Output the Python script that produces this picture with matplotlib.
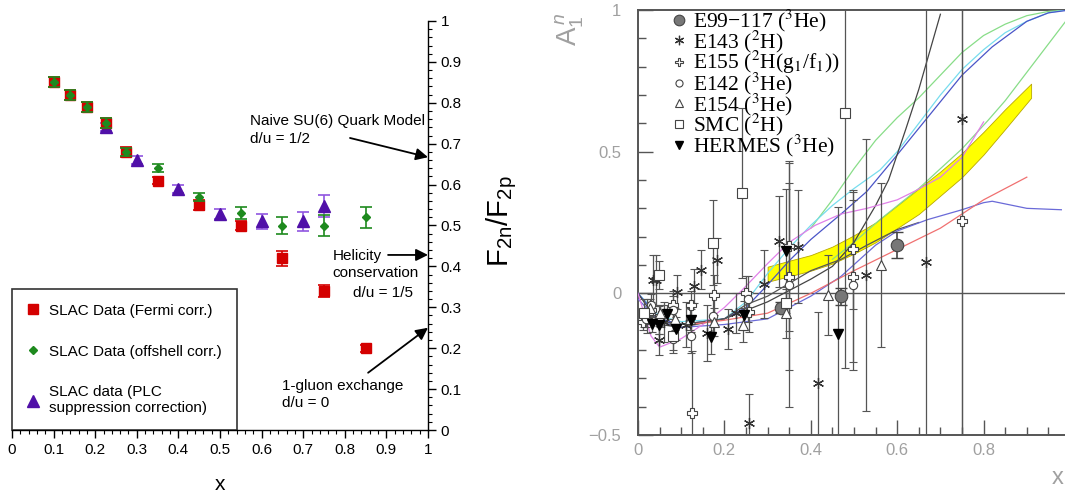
import numpy as np
import matplotlib
matplotlib.use("Agg")
import matplotlib.pyplot as plt
from matplotlib.ticker import MultipleLocator, FixedLocator, FuncFormatter
from matplotlib.font_manager import FontProperties

plt.rcParams['font.family'] = ['Liberation Sans', 'DejaVu Sans']
plt.rcParams['mathtext.fontset'] = 'custom'
plt.rcParams['mathtext.rm'] = 'Liberation Sans'
plt.rcParams['mathtext.it'] = 'Liberation Sans:italic'

# ---------------- left panel data: F2n/F2p ----------------
fermi_x = [0.10, 0.14, 0.18, 0.225, 0.275, 0.35, 0.45, 0.55, 0.65, 0.75, 0.85]
fermi_y = [0.85, 0.82, 0.79, 0.75, 0.68, 0.61, 0.55, 0.50, 0.42, 0.34, 0.20]
fermi_e = [0.012, 0.012, 0.012, 0.012, 0.012, 0.009, 0.012, 0.012, 0.018, 0.015, 0.009]

offs_x = [0.10, 0.14, 0.18, 0.225, 0.275, 0.35, 0.45, 0.55, 0.65, 0.75, 0.85]
offs_y = [0.85, 0.82, 0.79, 0.75, 0.68, 0.64, 0.57, 0.53, 0.50, 0.50, 0.52]
offs_e = [0.012, 0.012, 0.012, 0.012, 0.010, 0.010, 0.010, 0.015, 0.022, 0.025, 0.025]

plc_x = [0.225, 0.30, 0.40, 0.50, 0.60, 0.70, 0.75]
plc_y = [0.74, 0.66, 0.59, 0.528, 0.51, 0.51, 0.547]
plc_e = [0.010, 0.009, 0.010, 0.013, 0.018, 0.023, 0.027]

# ---------------- right panel data: A1n ----------------
e99_x = [0.33, 0.47, 0.60]
e99_y = [-0.05, -0.01, 0.17]
e99_e = [0.02, 0.03, 0.045]

e143_x = [0.02, 0.034, 0.041, 0.048, 0.06, 0.090, 0.11, 0.130, 0.146, 0.160, 0.183, 0.208, 0.228,
          0.258, 0.292, 0.327, 0.370, 0.416, 0.528, 0.667, 0.749]
e143_y = [-0.08, 0.046, 0.046, -0.166, -0.10, 0.005, -0.11, 0.026, 0.084, -0.140, 0.117, -0.125, -0.07,
          -0.457, 0.034, 0.183, 0.165, -0.315, 0.065, 0.112, 0.616]
e143_e = [0.06, 0.09, 0.09, 0.05, 0.07, 0.06, 0.08, 0.06, 0.07, 0.10, 0.08, 0.07, 0.07,
          0.10, 0.12, 0.16, 0.20, 0.25, 0.48, 1.6, 1.6]

e155_x = [0.011, 0.03, 0.05, 0.082, 0.123, 0.126, 0.176, 0.25, 0.257, 0.35, 0.35, 0.498, 0.498, 0.749]
e155_y = [-0.10, -0.06, -0.08, -0.04, -0.04, -0.424, -0.007, 0.0, -0.065, 0.167, 0.059, 0.155, 0.059, 0.256]
e155_e = [0.03, 0.03, 0.04, 0.05, 0.05, 0.22, 0.07, 0.06, 0.07, 0.30, 0.33, 0.21, 0.30, 1.6]

e142_x = [0.018, 0.03, 0.049, 0.080, 0.082, 0.123, 0.174, 0.254, 0.35, 0.498]
e142_y = [-0.09, -0.042, -0.095, -0.16, -0.06, -0.15, -0.08, -0.02, 0.03, 0.03]
e142_e = [0.03, 0.04, 0.05, 0.05, 0.05, 0.06, 0.07, 0.08, 0.43, 0.30]

e154_x = [0.027, 0.05, 0.085, 0.12, 0.175, 0.242, 0.343, 0.44, 0.562]
e154_y = [-0.05, -0.07, -0.09, -0.09, -0.10, -0.112, -0.068, -0.006, 0.10]
e154_e = [0.03, 0.03, 0.04, 0.04, 0.05, 0.06, 0.09, 0.14, 0.29]

smc_x = [0.015, 0.049, 0.08, 0.174, 0.241, 0.343, 0.479]
smc_y = [-0.07, 0.064, -0.15, 0.178, 0.353, -0.033, 0.638]
smc_e = [0.05, 0.05, 0.05, 0.15, 0.30, 0.05, 0.90]

herm_x = [0.032, 0.049, 0.066, 0.088, 0.123, 0.169, 0.246, 0.343, 0.464]
herm_y = [-0.107, -0.113, -0.072, -0.125, -0.095, -0.154, -0.078, 0.15, -0.145]
herm_e = [0.03, 0.03, 0.03, 0.04, 0.04, 0.06, 0.05, 0.22, 0.45]

# yellow band
band_x = [0.30, 0.35, 0.40, 0.45, 0.50, 0.55, 0.60, 0.65, 0.70, 0.75, 0.80, 0.85, 0.91]
band_hi = [0.094, 0.115, 0.135, 0.165, 0.205, 0.25, 0.31, 0.37, 0.43, 0.495, 0.57, 0.65, 0.74]
band_lo = [0.041, 0.060, 0.080, 0.105, 0.140, 0.18, 0.23, 0.28, 0.345, 0.41, 0.49, 0.58, 0.69]

# model curves (x, y, colour)
curves = [
    ([0.40, 0.45, 0.50, 0.55, 0.60, 0.65, 0.70, 0.75, 0.80, 0.85, 0.90, 0.95, 0.99],
     [0.23, 0.33, 0.44, 0.54, 0.62, 0.69, 0.77, 0.85, 0.91, 0.95, 0.98, 0.995, 1.0], '#88dd88'),
    ([0.45, 0.50, 0.56, 0.65, 0.70, 0.75, 0.81, 0.85, 0.90, 0.95, 0.99],
     [0.12, 0.18, 0.26, 0.37, 0.44, 0.51, 0.61, 0.68, 0.78, 0.88, 0.96], '#88dd88'),
    ([0.0, 0.05, 0.1, 0.2, 0.25, 0.3, 0.35, 0.4, 0.45, 0.5, 0.56, 0.6, 0.65, 0.7, 0.75, 0.8, 0.85, 0.9, 0.95, 0.99],
     [0.0, -0.08, -0.1, -0.09, -0.03, 0.07, 0.16, 0.24, 0.31, 0.37, 0.435, 0.5, 0.6, 0.7, 0.79, 0.86, 0.92, 0.96, 0.99, 1.0], '#77ddee'),
    ([0.0, 0.05, 0.1, 0.2, 0.25, 0.3, 0.35, 0.4, 0.47, 0.53, 0.59, 0.67, 0.75, 0.82, 0.9, 0.95, 1.0],
     [0.0, -0.09, -0.11, -0.09, -0.05, 0.03, 0.115, 0.19, 0.28, 0.36, 0.47, 0.62, 0.77, 0.87, 0.96, 0.99, 1.0], '#4a55c8'),
    ([0.0, 0.05, 0.1, 0.2, 0.3, 0.35, 0.4, 0.45, 0.5, 0.55, 0.58, 0.62, 0.65, 0.7],
     [0.0, -0.11, -0.12, -0.09, -0.03, 0.01, 0.05, 0.095, 0.18, 0.31, 0.40, 0.58, 0.72, 0.985], '#444444'),
    ([0.05, 0.1, 0.2, 0.25, 0.3, 0.35, 0.4, 0.47, 0.53, 0.6, 0.65],
     [-0.1, -0.11, -0.09, -0.04, -0.01, 0.035, 0.08, 0.12, 0.17, 0.225, 0.25], '#555555'),
    ([0.0, 0.05, 0.1, 0.2, 0.3, 0.35, 0.4, 0.47, 0.55, 0.6, 0.67, 0.75, 0.8, 0.82, 0.9, 0.98],
     [-0.02, -0.1, -0.12, -0.11, -0.09, -0.05, -0.01, 0.06, 0.17, 0.22, 0.26, 0.295, 0.32, 0.325, 0.30, 0.295], '#6a6ad8'),
    ([0.0, 0.01, 0.03, 0.05, 0.1, 0.15, 0.2, 0.24, 0.3, 0.35, 0.41, 0.47, 0.53, 0.6, 0.64, 0.7, 0.75, 0.8],
     [0.0, -0.05, -0.15, -0.19, -0.16, -0.11, -0.05, 0.01, 0.105, 0.18, 0.24, 0.28, 0.30, 0.33, 0.36, 0.41, 0.48, 0.605], '#e080e8'),
    ([0.12, 0.2, 0.3, 0.35, 0.4, 0.5, 0.6, 0.7, 0.75, 0.8, 0.9],
     [-0.11, -0.095, -0.07, -0.035, 0.0, 0.08, 0.155, 0.23, 0.28, 0.33, 0.41], '#f07070'),
]

W, H = 1065, 495
fig = plt.figure(figsize=(W / 100, H / 100), dpi=100)
fig.patch.set_facecolor('white')

# =============== left panel ===============
ax1 = fig.add_axes([12 / W, 1 - 430 / H, 416 / W, 409 / H])
ax1.set_xlim(0, 1)
ax1.set_ylim(0, 1)
for s in ['left', 'top']:
    ax1.spines[s].set_visible(False)
ax1.spines['bottom'].set_linewidth(1.0)
ax1.spines['right'].set_linewidth(1.0)
ax1.yaxis.tick_right()
ax1.xaxis.set_major_locator(MultipleLocator(0.1))
ax1.xaxis.set_minor_locator(MultipleLocator(0.02))
ax1.yaxis.set_major_locator(MultipleLocator(0.1))
ax1.yaxis.set_minor_locator(MultipleLocator(0.02))
fmt = FuncFormatter(lambda v, p: f'{v:g}')
ax1.xaxis.set_major_formatter(fmt)
ax1.yaxis.set_major_formatter(fmt)
ax1.tick_params(which='major', direction='out', length=6, width=1, labelsize=11, pad=3)
ax1.tick_params(which='minor', direction='out', length=3, width=0.8)

ax1.errorbar(plc_x, plc_y, yerr=plc_e, fmt='^', ms=8, color='#5010a8', ecolor='#9055e0',
             elinewidth=1.2, capsize=4, capthick=1.2, clip_on=False, zorder=3)
ax1.errorbar(fermi_x, fermi_y, yerr=fermi_e, fmt='s', ms=7, color='#d40000', ecolor='#d40000',
             elinewidth=1.2, capsize=4, capthick=1.2, clip_on=False, zorder=4)
ax1.errorbar(offs_x, offs_y, yerr=offs_e, fmt='D', ms=4, color='#1e8a1e', ecolor='#1e8a1e',
             elinewidth=1.2, capsize=4, capthick=1.2, clip_on=False, zorder=5)

h1, = ax1.plot([], [], 's', ms=7, color='#d40000')
h2, = ax1.plot([], [], 'D', ms=4, color='#1e8a1e')
h3, = ax1.plot([], [], '^', ms=8, color='#5010a8')
leg1 = ax1.legend([h1, h2, h3],
                  ['SLAC Data (Fermi corr.)', 'SLAC Data (offshell corr.)',
                   'SLAC data (PLC\nsuppression correction)'],
                  loc='lower left', bbox_to_anchor=(0, 0), borderaxespad=0,
                  fontsize=11, frameon=True, fancybox=False, edgecolor='black',
                  labelspacing=1.75, borderpad=0.95, handlelength=0.9, handletextpad=0.6)
leg1.get_frame().set_linewidth(1.2)

arrow = dict(arrowstyle='-|>', lw=1.3, color='black', mutation_scale=18, shrinkA=0, shrinkB=0)
ax1.annotate('', xy=(1.0, 0.667), xytext=(0.8125, 0.714), arrowprops=arrow, annotation_clip=False)
ax1.annotate('', xy=(1.0, 0.428), xytext=(0.904, 0.428), arrowprops=arrow, annotation_clip=False)
ax1.annotate('', xy=(1.0, 0.25), xytext=(0.856, 0.14), arrowprops=arrow, annotation_clip=False)
ax1.text(0.572, 0.733, 'Naive SU(6) Quark Model\nd/u = 1/2', fontsize=11, va='center', ha='left',
         linespacing=1.35)
ax1.text(0.77, 0.405, 'Helicity\nconservation', fontsize=11, va='center', ha='left', linespacing=1.25)
ax1.text(0.964, 0.335, 'd/u = 1/5', fontsize=11, va='center', ha='right')
ax1.text(0.649, 0.087, '1-gluon exchange\nd/u = 0', fontsize=11, va='center', ha='left',
         linespacing=1.3)

fig.text(502 / W, 1 - 221 / H, r'$\mathrm{F_{2n}/F_{2p}}$', rotation=90, fontsize=21,
         ha='center', va='center')
fig.text(220 / W, 1 - 484 / H, 'x', fontsize=15, ha='center', va='center')

# =============== right panel ===============
ax2 = fig.add_axes([638 / W, 1 - 435 / H, 432 / W, 425 / H])
ax2.set_xlim(0, 1)
ax2.set_ylim(-0.5, 1)
for s in ax2.spines.values():
    s.set_color('#555555')
    s.set_linewidth(1.4)
ax2.axhline(0, color='#555555', lw=1.0, zorder=1)
ax2.xaxis.set_major_locator(FixedLocator([0, 0.2, 0.4, 0.6, 0.8]))
ax2.xaxis.set_minor_locator(MultipleLocator(0.05))
ax2.yaxis.set_major_locator(MultipleLocator(0.5))
ax2.yaxis.set_minor_locator(MultipleLocator(0.1))
fmt2 = FuncFormatter(lambda v, p: f'{v:g}'.replace('-', '\u2212'))
ax2.xaxis.set_major_formatter(fmt2)
ax2.yaxis.set_major_formatter(fmt2)
ax2.tick_params(which='major', direction='in', length=11, width=1, color='#555555',
                labelcolor='#a0a0a0', labelsize=12)
ax2.tick_params(which='minor', direction='in', length=6, width=1, color='#555555')
ax2.tick_params(axis='y', which='major', pad=12)
ax2.tick_params(axis='x', which='major', pad=6)

ax2.fill_between(band_x, band_lo, band_hi, facecolor='#ffff00', edgecolor='#b8a800', lw=0.6, zorder=2)
for cx, cy, cc in curves:
    ax2.plot(cx, cy, color=cc, lw=0.9, zorder=3)

eb = dict(fmt='none', ecolor='#555555', elinewidth=0.9, capsize=3, capthick=0.8, zorder=4)
ax2.errorbar(e143_x, e143_y, yerr=e143_e, **eb)
ax2.errorbar(e155_x, e155_y, yerr=e155_e, **eb)
ax2.errorbar(e142_x, e142_y, yerr=e142_e, **eb)
ax2.errorbar(e154_x, e154_y, yerr=e154_e, **eb)
ax2.errorbar(smc_x, smc_y, yerr=smc_e, **eb)
ax2.errorbar(herm_x, herm_y, yerr=herm_e, **eb)
ax2.errorbar(e99_x, e99_y, yerr=e99_e, fmt='none', ecolor='#444444', elinewidth=1.2,
             capsize=4, capthick=1.0, zorder=4)

mk = dict(ls='none', zorder=5)
p1, = ax2.plot(e99_x, e99_y, 'o', ms=9, mfc='#777777', mec='#444444', mew=0.8, **mk)
p2, = ax2.plot(e143_x, e143_y, marker=(6, 2, 0), ms=8, color='#333333', mew=0.9, **mk)
p3, = ax2.plot(e155_x, e155_y, 'P', ms=7, mfc='white', mec='#444444', mew=0.8, **mk)
p4, = ax2.plot(e142_x, e142_y, 'o', ms=6, mfc='white', mec='#444444', mew=0.8, **mk)
p5, = ax2.plot(e154_x, e154_y, '^', ms=7, mfc='white', mec='#444444', mew=0.8, **mk)
p6, = ax2.plot(smc_x, smc_y, 's', ms=7, mfc='white', mec='#444444', mew=0.8, **mk)
p7, = ax2.plot(herm_x, herm_y, 'v', ms=7, color='black', **mk)

legprop = FontProperties(family='Liberation Serif', size=15.5, math_fontfamily='stix')
leg2 = ax2.legend([p1, p2, p3, p4, p5, p6, p7],
                  ['E99\u2212117 ($^3$He)', 'E143 ($^2$H)', 'E155 ($^2$H(g$_1$/f$_1$))',
                   'E142 ($^3$He)', 'E154 ($^3$He)', 'SMC ($^2$H)', 'HERMES ($^3$He)'],
                  loc='upper left', bbox_to_anchor=(0.078, 1.005), borderaxespad=0, borderpad=0,
                  frameon=False, prop=legprop, labelspacing=-0.26, handlelength=0.7,
                  handletextpad=0.3, markerscale=0.85)
leg2.set_zorder(10)

ax2.text(-0.157, 0.995, r'$\mathrm{A}_1^{\,n}$', rotation=90, transform=ax2.transAxes,
         fontsize=20, color='#a0a0a0', ha='center', va='top')
ax2.text(0.972, -0.101, 'x', transform=ax2.transAxes, fontsize=17, color='#a0a0a0',
         ha='center', va='center')

fig.savefig('out.png', dpi=100)
